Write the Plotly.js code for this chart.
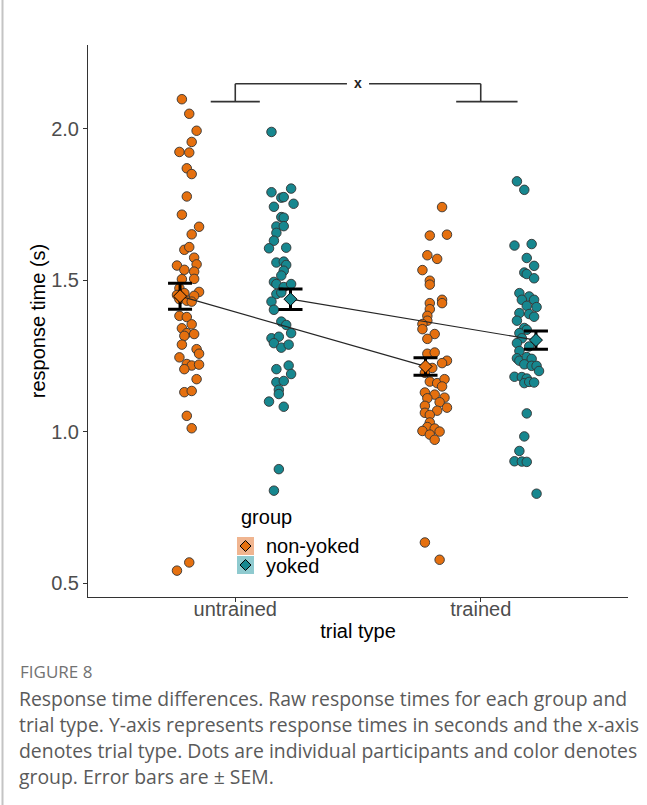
<!DOCTYPE html>
<html>
<head>
<meta charset="utf-8">
<script src="https://cdn.plot.ly/plotly-3.0.1.min.js"></script>
<style>
html,body{margin:0;padding:0;background:#fff;}
#chart{width:647px;height:805px;}
</style>
</head>
<body>
<div id="chart"></div>
<script>
// ---- data ----
const categories = ["untrained", "trained"];
const groups = ["non-yoked", "yoked"];
const groupColors = ["#E5700F", "#17878F"];
const keyColors = ["#F0B590", "#8FCACF"];

// untrained, non-yoked: response times (s) and horizontal jitter (category units)
const untrainedNonYoked = [2.098,2.050,1.994,1.957,1.924,1.922,1.870,1.851,1.777,1.717,1.677,1.652,1.601,1.610,1.575,1.553,1.549,1.535,1.529,1.505,1.504,1.474,1.452,1.458,1.462,1.449,1.438,1.433,1.430,1.383,1.379,1.355,1.342,1.326,1.323,1.317,1.288,1.273,1.258,1.246,1.224,1.219,1.222,1.207,1.174,1.131,1.135,1.053,1.012,0.569,0.542];
const untrainedNonYokedJitter = [-0.03,0.00,0.03,0.01,-0.04,0.00,-0.01,0.01,-0.01,-0.03,0.04,0.01,-0.02,0.00,0.02,0.03,-0.05,-0.02,0.02,0.02,-0.03,-0.04,-0.05,-0.02,0.04,0.02,-0.04,-0.01,0.01,-0.04,-0.01,0.01,-0.03,-0.01,0.02,-0.02,-0.03,0.03,0.04,-0.04,-0.01,0.01,0.04,-0.02,0.03,-0.02,0.01,-0.01,0.01,0.00,-0.05];

const untrainedYoked = [1.990,1.791,1.803,1.773,1.775,1.753,1.743,1.709,1.707,1.678,1.679,1.657,1.631,1.606,1.608,1.559,1.562,1.551,1.532,1.516,1.495,1.488,1.478,1.488,1.455,1.460,1.430,1.403,1.364,1.353,1.326,1.309,1.314,1.293,1.278,1.288,1.207,1.219,1.191,1.164,1.168,1.139,1.125,1.100,1.083,0.877,0.806];
const untrainedYokedJitter = [-0.04,-0.04,0.04,0.00,0.01,0.05,-0.03,0.00,0.01,-0.02,0.01,-0.02,-0.03,-0.05,0.02,-0.02,0.01,0.02,0.01,0.00,-0.03,-0.02,0.01,0.04,-0.02,0.00,-0.04,-0.03,0.00,0.02,0.04,-0.04,-0.01,-0.03,0.00,0.03,-0.02,0.03,0.04,-0.02,0.01,-0.01,-0.01,-0.05,0.01,-0.01,-0.03];

const trainedNonYoked = [1.742,1.648,1.651,1.583,1.571,1.534,1.499,1.486,1.436,1.425,1.425,1.405,1.383,1.367,1.356,1.339,1.323,1.307,1.258,1.262,1.235,1.227,1.211,1.195,1.166,1.161,1.174,1.150,1.130,1.123,1.111,1.113,1.098,1.086,1.080,1.070,1.063,1.056,1.031,1.016,1.011,1.003,1.001,0.991,0.974,0.635,0.578];
const trainedNonYokedJitter = [0.03,-0.02,0.05,-0.03,0.01,-0.05,-0.02,-0.02,0.03,0.03,-0.02,-0.02,-0.03,-0.03,-0.05,-0.05,0.00,-0.03,-0.03,0.00,0.05,0.03,-0.01,-0.04,-0.02,0.01,0.04,0.03,-0.04,0.00,-0.03,0.04,0.02,-0.04,0.05,0.01,-0.04,-0.02,-0.02,-0.03,0.00,-0.05,0.02,-0.02,0.00,-0.04,0.02];

const trainedYoked = [1.827,1.799,1.615,1.620,1.574,1.548,1.526,1.521,1.507,1.458,1.447,1.436,1.436,1.416,1.412,1.392,1.389,1.380,1.367,1.343,1.337,1.326,1.309,1.293,1.282,1.267,1.243,1.235,1.247,1.241,1.223,1.218,1.218,1.201,1.182,1.181,1.176,1.161,1.165,1.163,1.061,0.985,0.937,0.903,0.902,0.901,0.796];
const trainedYokedJitter = [-0.04,-0.01,-0.05,0.02,0.00,0.03,-0.01,0.00,0.03,-0.03,0.01,-0.02,0.03,0.00,0.04,-0.03,0.01,0.03,-0.04,-0.01,0.00,-0.03,-0.02,-0.04,0.01,-0.03,-0.04,-0.03,0.00,0.02,-0.01,0.02,0.04,0.05,-0.05,-0.02,0.00,-0.01,0.01,0.03,0.00,-0.01,-0.03,-0.05,-0.02,0.00,0.04];

// group means and SEM per trial type [untrained, trained]
const meansNonYoked = [1.448, 1.216];
const semNonYoked   = [0.043, 0.029];
const meansYoked    = [1.438, 1.303];
const semYoked      = [0.034, 0.030];

const yTicks = [0.5, 1.0, 1.5, 2.0];
const yTickLabels = ["0.5", "1.0", "1.5", "2.0"];

// ---- build traces ----
const POINT_DODGE = 0.1875, MEAN_DODGE = 0.225;
const pointSets = [
  {y: untrainedNonYoked, j: untrainedNonYokedJitter, c: 0, g: 0},
  {y: untrainedYoked,    j: untrainedYokedJitter,    c: 0, g: 1},
  {y: trainedNonYoked,   j: trainedNonYokedJitter,   c: 1, g: 0},
  {y: trainedYoked,      j: trainedYokedJitter,      c: 1, g: 1}
];
const traces = [];
pointSets.forEach(s => {
  const base = (s.c + 1) + (s.g === 0 ? -POINT_DODGE : POINT_DODGE);
  traces.push({
    type: "scatter", mode: "markers", showlegend: false, hoverinfo: "y",
    x: s.y.map((v, i) => base + s.j[i]), y: s.y,
    marker: {symbol: "circle", size: 9.5, color: groupColors[s.g], line: {color: "#333", width: 0.9}}
  });
});
const meanSets = [
  {m: meansNonYoked, e: semNonYoked, g: 0},
  {m: meansYoked, e: semYoked, g: 1}
];
meanSets.forEach(s => {
  const xs = categories.map((c, i) => (i + 1) + (s.g === 0 ? -MEAN_DODGE : MEAN_DODGE));
  traces.push({
    type: "scatter", mode: "lines", showlegend: false, hoverinfo: "skip",
    x: xs, y: s.m, line: {color: "#262626", width: 1.2}
  });
});
meanSets.forEach(s => {
  const xs = categories.map((c, i) => (i + 1) + (s.g === 0 ? -MEAN_DODGE : MEAN_DODGE));
  traces.push({
    type: "scatter", mode: "markers", name: groups[s.g], showlegend: false,
    x: xs, y: s.m,
    error_y: {type: "data", array: s.e, visible: true, color: "#000", thickness: 3, width: 12},
    marker: {symbol: "diamond", size: 10, color: groupColors[s.g], line: {color: "#000", width: 1}}
  });
});

// ---- layout helpers (pixel -> paper) ----
const L = 88, T = 45, W = 540, H = 552;
const px = p => (p - L) / W;
const py = p => (T + H - p) / H;

const shapes = [];
// significance bracket
const bk = {color: "#333", width: 1.6};
shapes.push({type: "line", xref: "x", yref: "y", x0: 0.9, x1: 1.1, y0: 2.09, y1: 2.09, line: bk});
shapes.push({type: "line", xref: "x", yref: "y", x0: 1.9, x1: 2.15, y0: 2.09, y1: 2.09, line: bk});
shapes.push({type: "line", xref: "x", yref: "y", x0: 1.0, x1: 1.0, y0: 2.09, y1: 2.149, line: bk});
shapes.push({type: "line", xref: "x", yref: "y", x0: 2.0, x1: 2.0, y0: 2.09, y1: 2.149, line: bk});
shapes.push({type: "line", xref: "x", yref: "y", x0: 1.0, x1: 1.455, y0: 2.149, y1: 2.149, line: bk});
shapes.push({type: "line", xref: "x", yref: "y", x0: 1.545, x1: 2.0, y0: 2.149, y1: 2.149, line: bk});
// legend keys
const keyY = [[537, 555], [556, 574]];
groups.forEach((g, i) => {
  shapes.push({type: "rect", xref: "paper", yref: "paper", x0: px(237), x1: px(254), y0: py(keyY[i][1]), y1: py(keyY[i][0]),
    fillcolor: keyColors[i], line: {width: 0}, layer: "above"});
  const cx = 245.5, cy = (keyY[i][0] + keyY[i][1]) / 2, r = 5.5;
  shapes.push({type: "path", xref: "paper", yref: "paper",
    path: `M ${px(cx)} ${py(cy - r)} L ${px(cx + r)} ${py(cy)} L ${px(cx)} ${py(cy + r)} L ${px(cx - r)} ${py(cy)} Z`,
    fillcolor: groupColors[i], line: {color: "#000", width: 1}, layer: "above"});
});
// left border of the figure panel
shapes.push({type: "line", xref: "paper", yref: "paper", x0: px(2.5), x1: px(2.5), y0: py(0), y1: py(805), line: {color: "#c4c4c4", width: 2}});

const captionFont = {family: "Open Sans, Lato, sans-serif", size: 19.4, color: "#5a5a5a"};
const captionLines = [
  "Response time differences. Raw response times for each group and",
  "trial type. Y-axis represents response times in seconds and the x-axis",
  "denotes trial type. Dots are individual participants and color denotes",
  "group. Error bars are ± SEM."
];
const annotations = [
  {xref: "x", yref: "y", x: 1.5, y: 2.149, text: "<b>x</b>", showarrow: false, font: {size: 14, color: "#222", family: "Liberation Sans, Arial, sans-serif"}, yshift: 1},
  {xref: "paper", yref: "paper", x: px(239), y: py(517), xanchor: "left", yanchor: "middle", text: "group", showarrow: false, font: {size: 20, color: "#000"}},
  {xref: "paper", yref: "paper", x: px(264), y: py(546), xanchor: "left", yanchor: "middle", text: groups[0], showarrow: false, font: {size: 20, color: "#000"}},
  {xref: "paper", yref: "paper", x: px(264), y: py(566), xanchor: "left", yanchor: "middle", text: groups[1], showarrow: false, font: {size: 20, color: "#000"}},
  {xref: "paper", yref: "paper", x: px(18), y: py(671), xanchor: "left", yanchor: "middle", text: "FIGURE 8", showarrow: false, font: {family: "Open Sans, sans-serif", size: 17, color: "#727272"}}
];
captionLines.forEach((t, i) => {
  annotations.push({xref: "paper", yref: "paper", x: px(17), y: py(698 + i * 26.3), xanchor: "left", yanchor: "middle", text: t, showarrow: false, font: captionFont});
});

const layout = {
  width: 647, height: 805,
  margin: {l: L, r: 647 - L - W, t: T, b: 805 - T - H},
  paper_bgcolor: "#fff", plot_bgcolor: "#fff",
  font: {family: "Liberation Sans, Arial, sans-serif", color: "#000"},
  showlegend: false,
  xaxis: {
    range: [0.4, 2.6], tickvals: [1, 2], ticktext: categories,
    showline: true, linecolor: "#333", linewidth: 1, ticks: "outside", ticklen: 4, tickcolor: "#333",
    showgrid: false, zeroline: false, tickfont: {size: 20, color: "#4d4d4d"}, ticklabelstandoff: -10,
    title: {text: "trial type", font: {size: 20, color: "#000"}, standoff: 4}
  },
  yaxis: {
    range: [0.455, 2.277], tickvals: yTicks, ticktext: yTickLabels,
    showline: true, linecolor: "#333", linewidth: 1, ticks: "outside", ticklen: 4, tickcolor: "#333",
    showgrid: false, zeroline: false, tickfont: {size: 20, color: "#4d4d4d"},
    title: {text: "response time (s)", font: {size: 20, color: "#000"}, standoff: 0}
  },
  shapes: shapes,
  annotations: annotations
};

Plotly.newPlot("chart", traces, layout, {displayModeBar: false, staticPlot: true});
</script>
</body>
</html>
